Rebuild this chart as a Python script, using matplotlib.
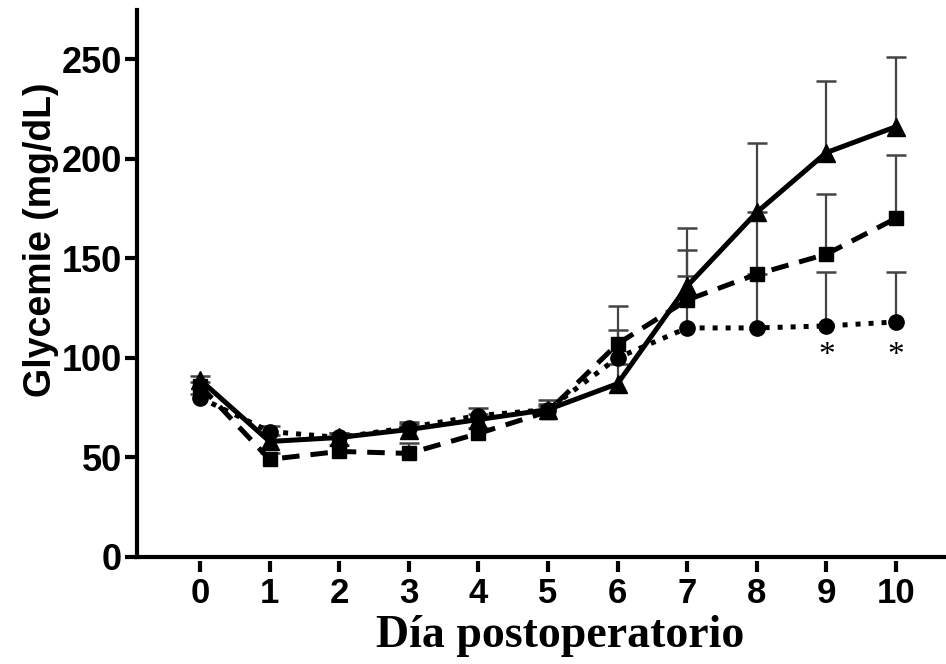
import matplotlib
matplotlib.use("Agg")
import matplotlib.pyplot as plt
from matplotlib import font_manager

# Datos: glucemia media por día postoperatorio (tres grupos)
dias = [0, 1, 2, 3, 4, 5, 6, 7, 8, 9, 10]

tri_media = [89, 58, 60, 64, 69, 74, 87, 136, 173, 203, 216]
tri_err = [2, 3, 2, 3, 3, 3, 10, 29, 35, 36, 35]

cua_media = [86, 49, 53, 52, 62, 73, 107, 129, 142, 152, 170]
cua_err = [2, 3, 3, 5, 3, 3, 19, 25, 31, 30, 32]

cir_media = [80, 63, 60, 65, 71, 74, 100, 115, 115, 116, 118]
cir_err = [2, 3, 2, 3, 4, 5, 14, 26, 27, 27, 25]

asteriscos_x = [9, 10]

nombres = {f.name for f in font_manager.fontManager.ttflist}
narrow = "Liberation Sans Narrow" if "Liberation Sans Narrow" in nombres else "Liberation Sans"

fig = plt.figure(figsize=(9.46, 6.64), dpi=100)
ax = fig.add_axes([137 / 946, 1 - 557 / 664, 809 / 946, 547 / 664])

series = [
    (cir_media, cir_err, "o", 11, (0, (1.0, 1.6))),
    (cua_media, cua_err, "s", 10, (0, (3.5, 2.2))),
    (tri_media, tri_err, "^", 13, "-"),
]

# barras de error (solo hacia arriba)
for media, err, *_ in series:
    sup = [m + e for m, e in zip(media, err)]
    ax.vlines(dias, media, sup, color="#444444", lw=1.6, zorder=2)
    ax.plot(dias, sup, ls="none", marker="_", ms=15, mew=1.8,
            color="#444444", zorder=2)

for media, err, mk, ms, ls in series:
    ax.plot(dias, media, color="black", lw=3.6, ls=ls, marker=mk,
            ms=ms, zorder=3, dash_capstyle="butt")

for xa in asteriscos_x:
    ax.text(xa, 101, "*", ha="center", va="center", fontsize=24,
            family="Liberation Serif", color="black")

ax.set_xlim(-0.905, 10.72)
ax.set_ylim(0, 274.6)

for lado in ["top", "right"]:
    ax.spines[lado].set_visible(False)
ax.spines["left"].set_linewidth(3)
ax.spines["bottom"].set_linewidth(3)

ax.set_yticks([0, 50, 100, 150, 200, 250])
ax.tick_params(axis="y", length=9, width=3, pad=2, labelsize=26)
for t in ax.get_yticklabels():
    t.set_fontweight("bold")
    t.set_family("Liberation Sans")

# eje x con marcas separadas de la línea
ax.set_xticks([])
sec = ax.secondary_xaxis(-0.008)
sec.spines["bottom"].set_visible(False)
sec.set_xticks(dias)
sec.tick_params(axis="x", length=8, width=3, pad=3, labelsize=25)
for t in sec.get_xticklabels():
    t.set_fontweight("bold")
    t.set_family(narrow)

ax.set_ylabel("Glycemie (mg/dL)", fontsize=27, fontweight="bold",
              family="Liberation Sans")
ax.yaxis.set_label_coords(-0.097, 0.58)

fig.text(560 / 946, 1 - 636 / 664, "Día postoperatorio", ha="center",
         va="center", fontsize=33, fontweight="bold", family="Liberation Serif")

fig.savefig("out.png", dpi=100)
